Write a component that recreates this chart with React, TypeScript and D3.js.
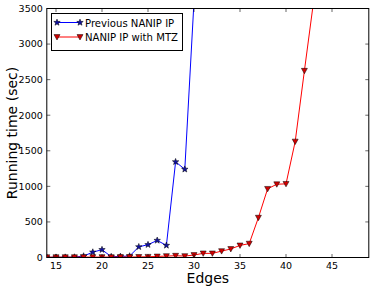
import React from "react";
import * as d3 from "d3";

const edges = [14,15,16,17,18,19,20,21,22,23,24,25,26,27,28,29,30,31,32,33,34,35,36,37,38,39,40,41,42,43];
const prevEdges = [14,15,16,17,18,19,20,21,22,23,24,25,26,27,28,29,30];
const prevValues = [2,3,4,5,20,75,110,12,15,20,150,180,240,170,1345,1240,3600];
const mtzValues = [5,5,5,5,6,6,6,6,7,7,8,10,15,20,25,20,35,58,58,90,120,170,195,560,965,1030,1035,1630,2625,3600];
const xTicks = [15,20,25,30,35,40,45];
const yTicks = [0,500,1000,1500,2000,2500,3000,3500];
const seriesNames = ["Previous NANIP IP", "NANIP IP with MTZ"];

const W = 374, H = 290;
const m = { left: 46.8, right: 5.2, top: 8.5, bottom: 32.5 };
const font = "DejaVu Sans, sans-serif";

function star(cx: number, cy: number, r: number) {
  const pts: string[] = [];
  for (let i = 0; i < 10; i++) {
    const rr = i % 2 === 0 ? r : r * 0.42;
    const a = -Math.PI / 2 + (i * Math.PI) / 5;
    pts.push(`${cx + rr * Math.cos(a)},${cy + rr * Math.sin(a)}`);
  }
  return pts.join(" ");
}
function tri(cx: number, cy: number, r: number) {
  return `${cx - r},${cy - r * 0.8} ${cx + r},${cy - r * 0.8} ${cx},${cy + r}`;
}

export default function App() {
  const x = d3.scaleLinear().domain([14, 49]).range([m.left, W - m.right]);
  const y = d3.scaleLinear().domain([0, 3500]).range([H - m.bottom, m.top]);
  const line = d3.line<[number, number]>().x(d => x(d[0])).y(d => y(d[1]));
  const prev: [number, number][] = prevEdges.map((e, i) => [e, prevValues[i]]);
  const mtz: [number, number][] = edges.map((e, i) => [e, mtzValues[i]]);
  const x0 = x.range()[0], x1 = x.range()[1], y0 = y.range()[0], y1 = y.range()[1];
  return (
    <svg width={W} height={H} style={{ position: "absolute", left: 0, top: 0, background: "#fff" }}>
      <defs>
        <clipPath id="plot"><rect x={x0} y={y1} width={x1 - x0} height={y0 - y1} /></clipPath>
      </defs>
      <g clipPath="url(#plot)">
        <path d={line(prev) || ""} fill="none" stroke="#0000ff" strokeWidth={1} />
        {prev.map((d, i) => (
          <polygon key={"p" + i} points={star(x(d[0]), y(d[1]), 3.4)} fill="#1010a0" stroke="#000" strokeWidth={0.5} />
        ))}
        <path d={line(mtz) || ""} fill="none" stroke="#ff0000" strokeWidth={1} />
        {mtz.map((d, i) => (
          <polygon key={"m" + i} points={tri(x(d[0]), y(d[1]), 3)} fill="#d00000" stroke="#000" strokeWidth={0.5} />
        ))}
      </g>
      <rect x={x0} y={y1} width={x1 - x0} height={y0 - y1} fill="none" stroke="#000" strokeWidth={1} />
      {xTicks.map(t => (
        <g key={"x" + t}>
          <line x1={x(t)} x2={x(t)} y1={y0} y2={y0 - 3.5} stroke="#000" strokeWidth={0.6} />
          <line x1={x(t)} x2={x(t)} y1={y1} y2={y1 + 3.5} stroke="#000" strokeWidth={0.6} />
          <text x={x(t)} y={y0 + 11} textAnchor="middle" fontFamily={font} fontSize={9.5}>{t}</text>
        </g>
      ))}
      {yTicks.map(t => (
        <g key={"y" + t}>
          <line x1={x0} x2={x0 + 3.5} y1={y(t)} y2={y(t)} stroke="#000" strokeWidth={0.6} />
          <line x1={x1} x2={x1 - 3.5} y1={y(t)} y2={y(t)} stroke="#000" strokeWidth={0.6} />
          <text x={x0 - 4} y={y(t) + 3.4} textAnchor="end" fontFamily={font} fontSize={9.5}>{t}</text>
        </g>
      ))}
      <text x={(x0 + x1) / 2} y={283} textAnchor="middle" fontFamily={font} fontSize={14}>Edges</text>
      <text transform={`translate(17,${(y0 + y1) / 2}) rotate(-90)`} textAnchor="middle" fontFamily={font} fontSize={14}>Running time (sec)</text>
      <g>
        <rect x={51.5} y={13.5} width={131} height={37} fill="#fff" stroke="#000" strokeWidth={1} />
        <line x1={57} x2={80} y1={22.5} y2={22.5} stroke="#0000ff" strokeWidth={1} />
        <polygon points={star(57, 22.5, 3.4)} fill="#1010a0" stroke="#000" strokeWidth={0.5} />
        <polygon points={star(80, 22.5, 3.4)} fill="#1010a0" stroke="#000" strokeWidth={0.5} />
        <text x={85} y={26.5} fontFamily={font} fontSize={10.1}>{seriesNames[0]}</text>
        <line x1={57} x2={80} y1={37} y2={37} stroke="#ff0000" strokeWidth={1} />
        <polygon points={tri(57, 37, 3)} fill="#d00000" stroke="#000" strokeWidth={0.5} />
        <polygon points={tri(80, 37, 3)} fill="#d00000" stroke="#000" strokeWidth={0.5} />
        <text x={85} y={41} fontFamily={font} fontSize={10.1}>{seriesNames[1]}</text>
      </g>
    </svg>
  );
}
